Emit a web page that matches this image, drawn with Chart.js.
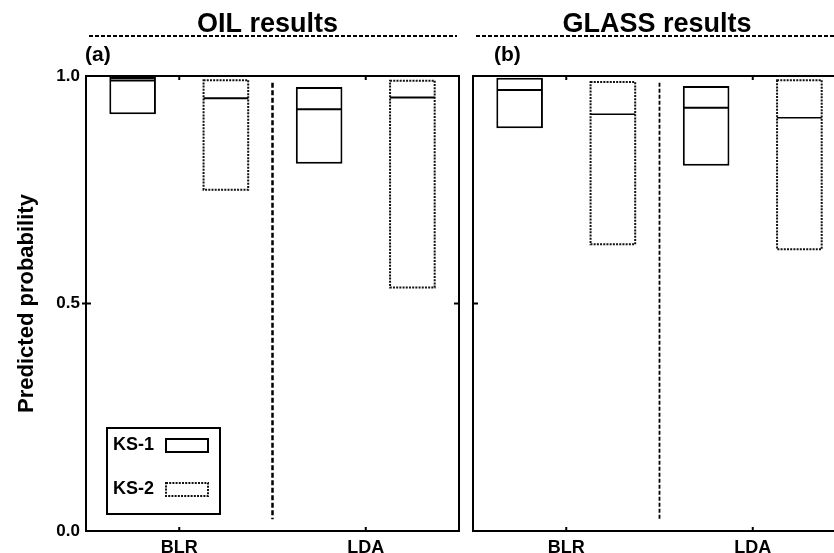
<!DOCTYPE html>
<html>
<head>
<meta charset="utf-8">
<script src="https://cdn.jsdelivr.net/npm/chart.js@4.4.1/dist/chart.umd.min.js"></script>
<style>
  html, body { margin: 0; padding: 0; background: #fff; overflow: hidden; width: 834px; height: 553px; }
  #wrapA { position: absolute; left: 0; top: 0; width: 470px; height: 553px; }
  #wrapB { position: absolute; left: 465px; top: 0; width: 400px; height: 553px; }
</style>
</head>
<body>
<div id="wrapA"><canvas id="oil" width="470" height="553"></canvas></div>
<div id="wrapB"><canvas id="glass" width="400" height="553"></canvas></div>
<script>
// Categories, series and tick labels
const categories = ['BLR', 'LDA'];
const seriesNames = ['KS-1', 'KS-2'];
const yTickValues = [0, 0.5, 1];
const yTickLabels = ['0.0', '0.5', '1.0'];

// OIL results: low / median / high predicted probability per classifier
const oilKs1Low = [0.916, 0.807];
const oilKs1Median = [0.990, 0.927];
const oilKs1High = [0.998, 0.976];
const oilKs2Low = [0.748, 0.533];
const oilKs2Median = [0.951, 0.953];
const oilKs2High = [0.993, 0.992];

// GLASS results
const glassKs1Low = [0.885, 0.803];
const glassKs1Median = [0.969, 0.930];
const glassKs1High = [0.996, 0.978];
const glassKs2Low = [0.628, 0.617];
const glassKs2Median = [0.916, 0.908];
const glassKs2High = [0.989, 0.993];

// vertical extent of the separator between the two classifiers
const separatorSpan = [0.026, 0.985];

const FONT = '"Liberation Sans", Arial, Helvetica, sans-serif';

function ranges(low, high) {
  return low.map((v, i) => [v, high[i]]);
}

function makeDatasets(k1Low, k1Med, k1High, k2Low, k2Med, k2High, medianWidth2) {
  return [
    {
      label: seriesNames[0],
      data: ranges(k1Low, k1High),
      medians: k1Med,
      medianWidth: 2,
      backgroundColor: '#ffffff',
      borderColor: '#000000',
      borderWidth: 2,
      borderSkipped: false,
      dotted: false
    },
    {
      label: seriesNames[1],
      data: ranges(k2Low, k2High),
      medians: k2Med,
      medianWidth: medianWidth2,
      backgroundColor: 'rgba(255,255,255,0)',
      borderColor: '#111111',
      borderWidth: 0,
      borderSkipped: false,
      dotted: true
    }
  ];
}

function dottedRect(ctx, l, t, r, b) {
  ctx.save();
  ctx.strokeStyle = '#111';
  ctx.lineWidth = 2;
  ctx.setLineDash([2, 1.2]);
  ctx.strokeRect(l + 1, t + 1, r - l - 2, b - t - 2);
  ctx.restore();
}

// Draws dotted boxes, medians, frame, inner ticks, separator, headers and key
const panelDecor = {
  id: 'panelDecor',
  afterDatasetsDraw(chart, args, opts) {
    const { ctx, chartArea: ca, scales } = chart;
    const xs = scales.x, ys = scales.y;

    chart.data.datasets.forEach((ds, i) => {
      const meta = chart.getDatasetMeta(i);
      meta.data.forEach((bar, j) => {
        const p = bar.getProps(['x', 'y', 'base', 'width'], true);
        const l = p.x - p.width / 2, r = p.x + p.width / 2;
        const t = Math.min(p.y, p.base), b = Math.max(p.y, p.base);
        if (ds.dotted) dottedRect(ctx, l, t, r, b);
        const ym = ys.getPixelForValue(ds.medians[j]);
        ctx.save();
        ctx.strokeStyle = '#000';
        ctx.lineWidth = ds.medianWidth;
        ctx.beginPath();
        ctx.moveTo(l + 1, ym);
        ctx.lineTo(r - 1, ym);
        ctx.stroke();
        ctx.restore();
      });
    });

    ctx.save();
    // frame
    ctx.strokeStyle = '#000';
    ctx.lineWidth = 2;
    ctx.strokeRect(ca.left, ca.top, ca.right - ca.left, ca.bottom - ca.top);

    // inward ticks on category positions
    ctx.lineWidth = 2;
    categories.forEach((c, i) => {
      const x = xs.getPixelForValue(i);
      ctx.beginPath();
      ctx.moveTo(x, ca.top); ctx.lineTo(x, ca.top + 4);
      ctx.moveTo(x, ca.bottom); ctx.lineTo(x, ca.bottom - 4);
      ctx.stroke();
    });
    // mid ticks on the probability axis
    const ymid = ys.getPixelForValue(yTickValues[1]);
    ctx.beginPath();
    ctx.moveTo(ca.left - opts.leftTickOut, ymid); ctx.lineTo(ca.left + 5, ymid);
    ctx.moveTo(ca.right, ymid); ctx.lineTo(ca.right - 5, ymid);
    ctx.stroke();

    // separator between classifiers
    const xSep = xs.getPixelForValue(0.5);
    ctx.lineWidth = opts.sepWidth;
    ctx.setLineDash(opts.sepDash);
    ctx.beginPath();
    ctx.moveTo(xSep, ys.getPixelForValue(separatorSpan[1]));
    ctx.lineTo(xSep, ys.getPixelForValue(separatorSpan[0]));
    ctx.stroke();
    ctx.setLineDash([]);

    // header and dashed rule
    const cx = (ca.left + ca.right) / 2 + opts.titleShift;
    ctx.fillStyle = '#000';
    ctx.font = 'bold 27px ' + FONT;
    ctx.textAlign = 'center';
    ctx.textBaseline = 'alphabetic';
    ctx.fillText(opts.title, cx, 32);
    ctx.strokeStyle = '#000';
    ctx.lineWidth = 2;
    ctx.setLineDash([4, 2]);
    ctx.beginPath();
    ctx.moveTo(ca.left + 3, 36);
    ctx.lineTo(ca.right - 2, 36);
    ctx.stroke();
    ctx.setLineDash([]);

    // panel letter
    ctx.font = 'bold 21px ' + FONT;
    ctx.textAlign = 'left';
    ctx.fillText(opts.letter, ca.left + opts.letterShift, 61);

    // key
    if (opts.key) {
      const kl = ca.left + 21, kt = 428, kw = 113, kh = 86;
      ctx.lineWidth = 2;
      ctx.strokeStyle = '#000';
      ctx.strokeRect(kl, kt, kw, kh);
      ctx.font = 'bold 18px ' + FONT;
      ctx.textBaseline = 'middle';
      const rows = [445, 489];
      chart.data.datasets.forEach((ds, i) => {
        ctx.fillStyle = '#000';
        ctx.fillText(ds.label, kl + 6, rows[i]);
        const sl = kl + 58, st = rows[i] - 7, sr = sl + 44, sb = rows[i] + 8;
        if (ds.dotted) {
          dottedRect(ctx, sl, st, sr, sb);
        } else {
          ctx.strokeStyle = '#000';
          ctx.lineWidth = 2;
          ctx.strokeRect(sl + 1, st + 1, sr - sl - 2, sb - st - 2);
        }
      });
    }
    ctx.restore();
  }
};

function xScale() {
  return {
    type: 'category',
    grid: { display: false, drawTicks: false },
    border: { display: false },
    ticks: { color: '#000', font: { family: FONT, size: 18, weight: 'bold' }, padding: 6 },
    afterFit: s => { s.height = 22; }
  };
}

function yScale(showLabels) {
  return {
    display: showLabels,
    min: 0,
    max: 1,
    grid: { display: false, drawTicks: false },
    border: { display: false },
    ticks: {
      stepSize: 0.5,
      color: '#000',
      font: { family: FONT, size: 17, weight: 'bold' },
      padding: 6,
      callback: v => yTickLabels[yTickValues.indexOf(v)]
    },
    title: {
      display: showLabels,
      text: 'Predicted probability',
      color: '#000',
      font: { family: FONT, size: 22, weight: 'bold' },
      padding: { top: 14, bottom: 0 }
    },
    afterFit: s => { if (showLabels) s.width = 86; }
  };
}

function makeChart(id, datasets, padding, showY, decor) {
  return new Chart(document.getElementById(id), {
    type: 'bar',
    data: { labels: categories, datasets },
    options: {
      responsive: false,
      animation: false,
      layout: { padding },
      categoryPercentage: 1.0,
      barPercentage: 0.5,
      plugins: { legend: { display: false }, tooltip: { enabled: false }, panelDecor: decor },
      scales: { x: xScale(), y: yScale(showY) }
    },
    plugins: [panelDecor]
  });
}

makeChart('oil',
  makeDatasets(oilKs1Low, oilKs1Median, oilKs1High, oilKs2Low, oilKs2Median, oilKs2High, 2),
  { left: 0, top: 76, right: 11, bottom: 0 }, true,
  { title: 'OIL results', letter: '(a)', titleShift: -5, letterShift: -1,
    sepWidth: 2.5, sepDash: [5, 2.5], key: true, leftTickOut: 4 });

makeChart('glass',
  makeDatasets(glassKs1Low, glassKs1Median, glassKs1High, glassKs2Low, glassKs2Median, glassKs2High, 1.5),
  { left: 8, top: 76, right: 19, bottom: 0 }, false,
  { title: 'GLASS results', letter: '(b)', titleShift: -2.5, letterShift: 21,
    sepWidth: 1.8, sepDash: [4, 2], key: false, leftTickOut: 0 });
</script>
</body>
</html>
